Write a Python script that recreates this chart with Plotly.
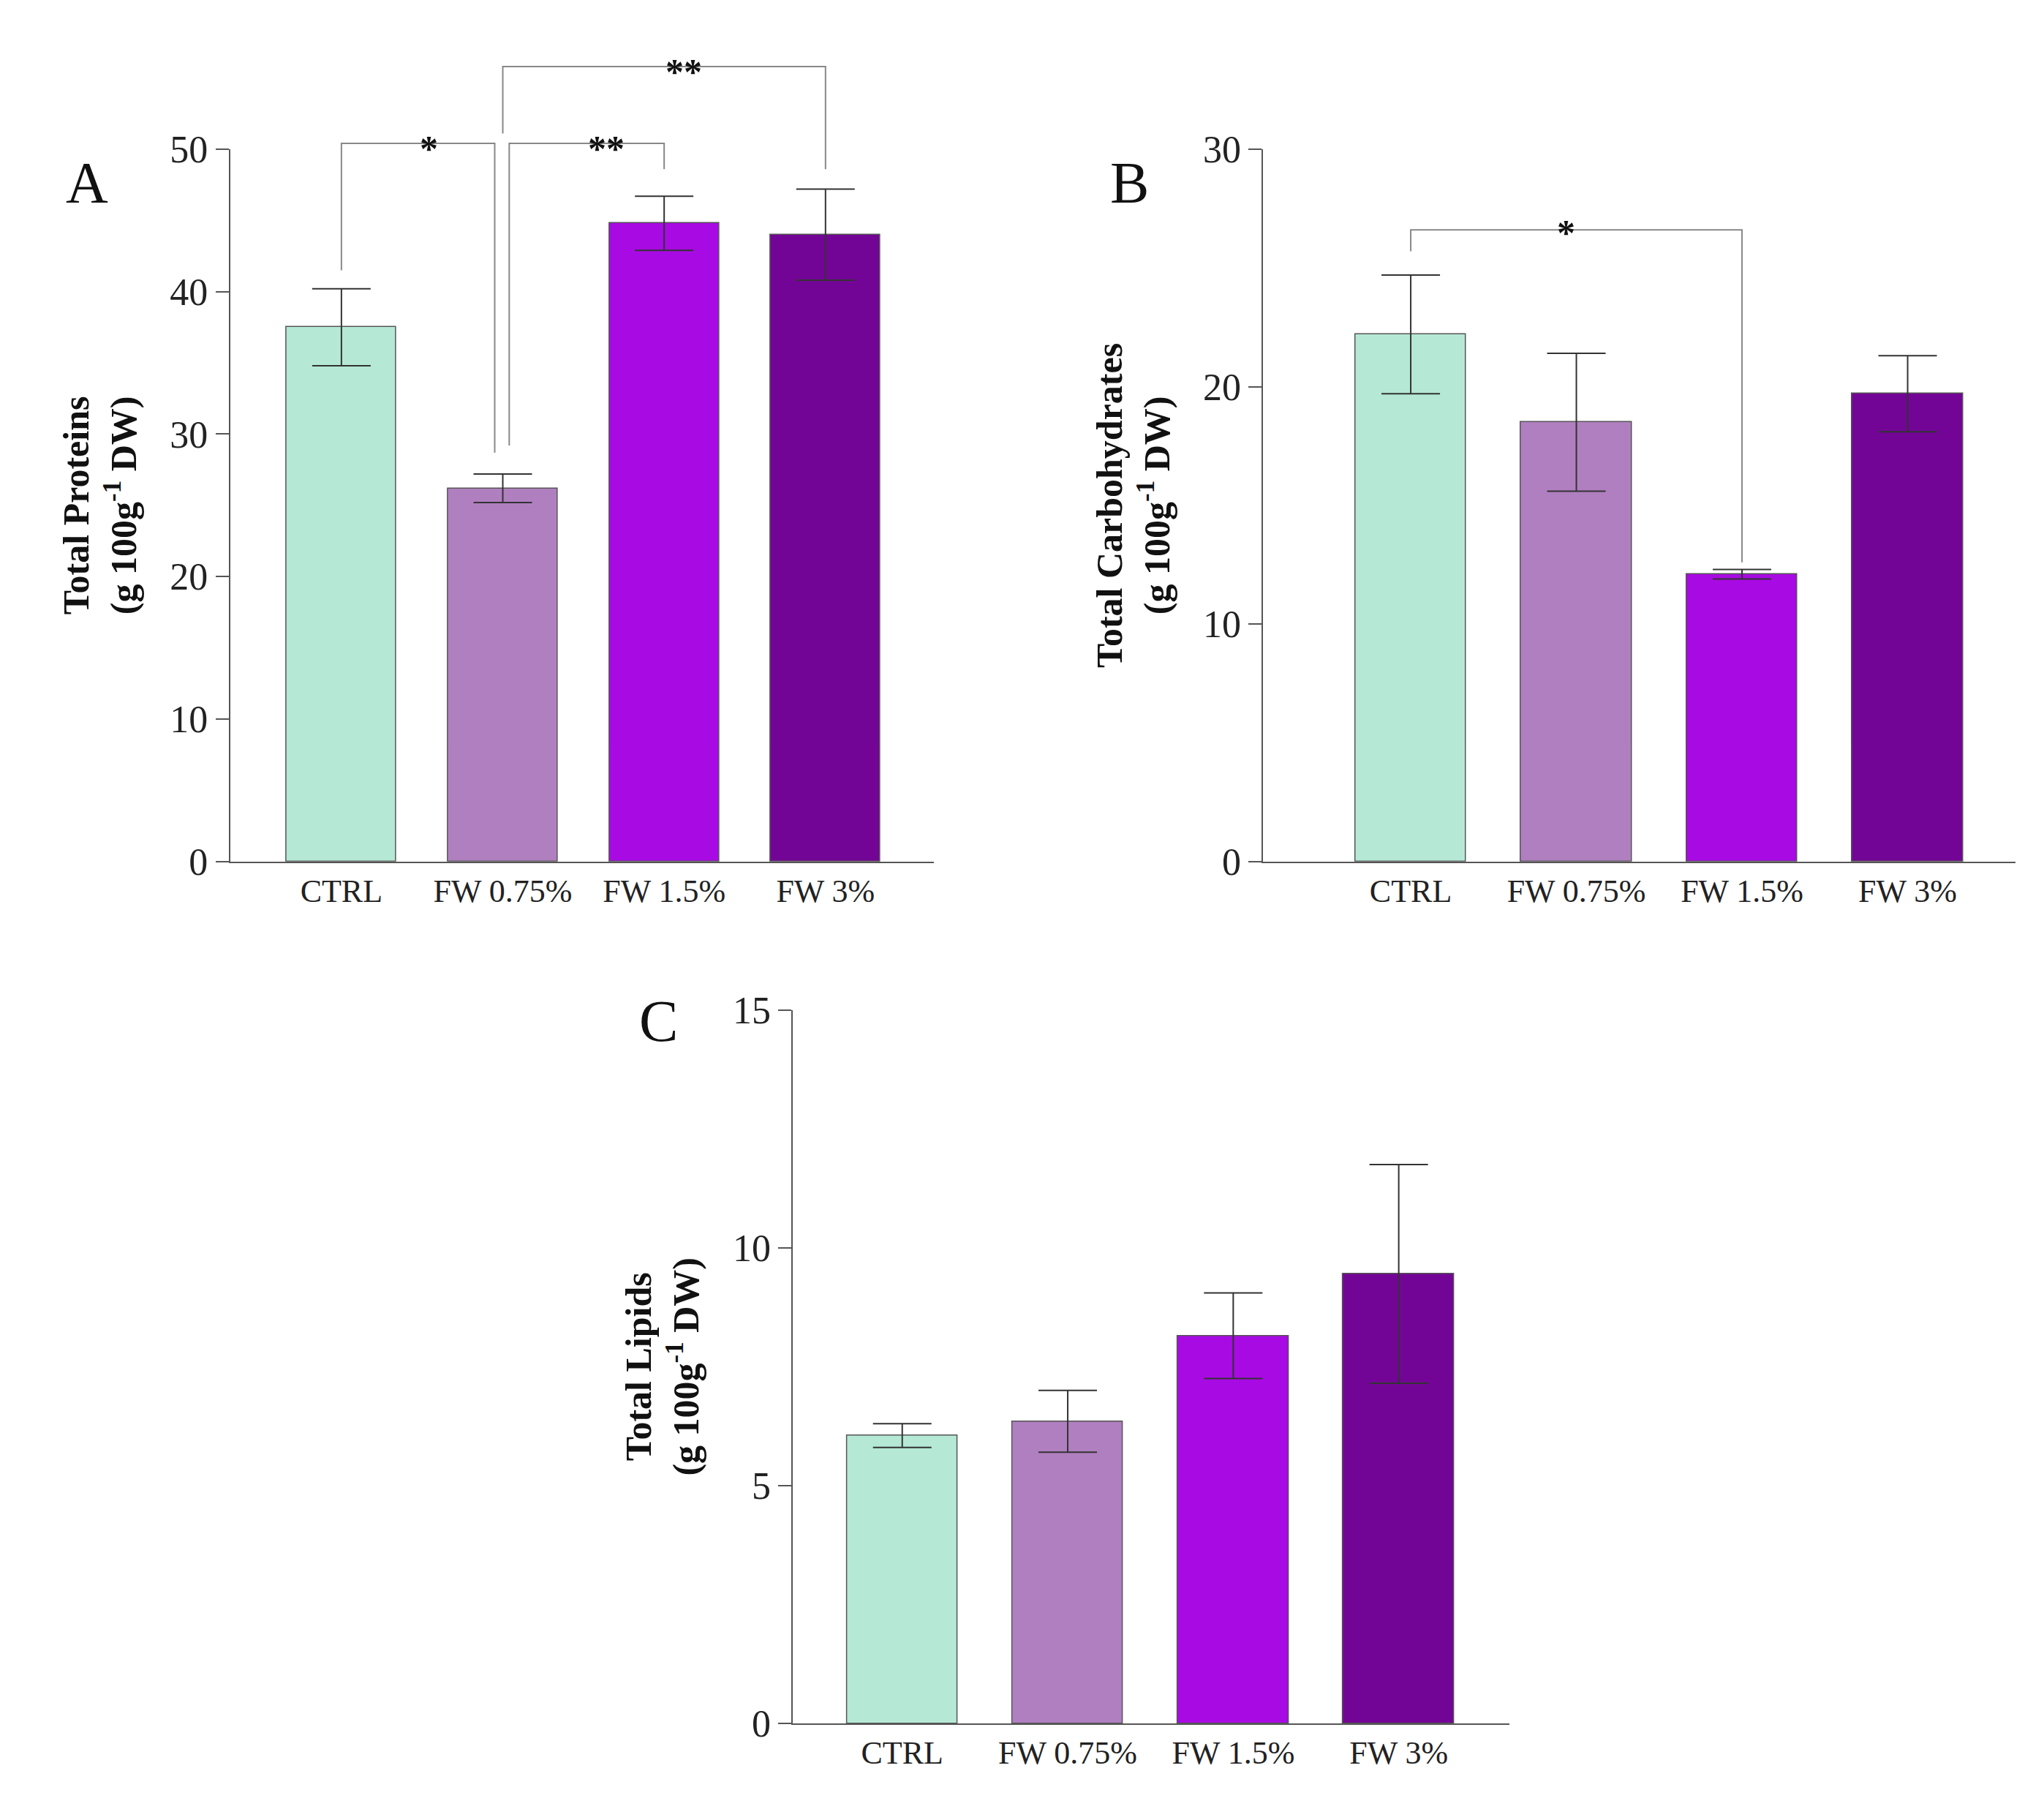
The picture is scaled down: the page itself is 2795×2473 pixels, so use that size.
import plotly.graph_objects as go

categories = ["CTRL", "FW 0.75%", "FW 1.5%", "FW 3%"]
colors = ["#b5e9d6", "#b07fc0", "#a80ae3", "#730596"]
prot = [37.5, 26.2, 44.8, 44.0]
prot_err = [2.7, 1.0, 1.9, 3.2]
carb = [22.2, 18.5, 12.1, 19.7]
carb_err = [2.5, 2.9, 0.2, 1.6]
lip = [6.05, 6.35, 8.15, 9.45]
lip_err = [0.25, 0.65, 0.9, 2.3]

W, H = 2795, 2473
FONT = "Liberation Serif"
panels = [
    dict(v=prot, e=prot_err, xd=[0.1097, 0.4539], yd=[0.5274, 0.9305], xr=[-0.69, 3.67], yr=[0, 50], dt=10,
         title="<b>Total Proteins<br>(g 100g<sup>-1</sup> DW)</b>", bw=0.68),
    dict(v=carb, e=carb_err, xd=[0.6152, 0.9831], yd=[0.5274, 0.9305], xr=[-0.89, 3.65], yr=[0, 30], dt=10,
         title="<b>Total Carbohydrates<br>(g 100g<sup>-1</sup> DW)</b>", bw=0.67),
    dict(v=lip, e=lip_err, xd=[0.3851, 0.7357], yd=[0.0397, 0.4435], xr=[-0.66, 3.67], yr=[0, 15], dt=5,
         title="<b>Total Lipids<br>(g 100g<sup>-1</sup> DW)</b>", bw=0.67),
]

fig = go.Figure()
for i, p in enumerate(panels):
    n = "" if i == 0 else str(i + 1)
    fig.add_trace(go.Bar(
        x=list(range(4)), y=p["v"], width=p["bw"], marker_color=colors,
        marker_line=dict(color="#555", width=1.5),
        error_y=dict(type="data", array=p["e"], color="#333", thickness=2, width=40),
        xaxis="x" + n, yaxis="y" + n, showlegend=False))
    fig.layout["xaxis" + n] = dict(domain=p["xd"], range=p["xr"], anchor="y" + n,
        tickvals=list(range(4)), ticktext=categories, showline=True, linecolor="#555", linewidth=2,
        ticks="", showgrid=False, zeroline=False, tickfont=dict(size=44, family=FONT, color="#222"))
    fig.layout["yaxis" + n] = dict(domain=p["yd"], range=p["yr"], anchor="x" + n, dtick=p["dt"],
        showline=True, linecolor="#555", linewidth=2, ticks="outside", ticklen=18, tickwidth=2,
        tickcolor="#555", showgrid=False, zeroline=False,
        tickfont=dict(size=52, family=FONT, color="#222"),
        title=dict(text=p["title"], font=dict(size=50, family=FONT, color="#111"), standoff=30))

def px(p, x):
    a, b = p["xr"]; d0, d1 = p["xd"]
    return d0 + (x - a) / (b - a) * (d1 - d0)

def py(p, y):
    a, b = p["yr"]; d0, d1 = p["yd"]
    return d0 + (y - a) / (b - a) * (d1 - d0)

def bracket(p, pts):
    path = "M " + " L ".join(f"{px(p, x)},{py(p, y)}" for x, y in pts)
    fig.add_shape(type="path", path=path, xref="paper", yref="paper",
                  line=dict(color="#888", width=2))

def star(p, x, y, t):
    fig.add_annotation(x=px(p, x), y=py(p, y), xref="paper", yref="paper", text=f"<b>{t}</b>",
                       showarrow=False, font=dict(size=50, family=FONT, color="#111"))

A, B, C = panels
bracket(A, [(0, 41.5), (0, 50.4), (0.95, 50.4), (0.95, 28.7)])
bracket(A, [(1.04, 29.2), (1.04, 50.4), (2, 50.4), (2, 48.6)])
bracket(A, [(1, 51.1), (1, 55.8), (3, 55.8), (3, 48.6)])
star(A, 0.475, 51.6, "*")
star(A, 1.52, 51.6, "**")
star(A, 2, 57.0, "**")
bracket(B, [(0, 25.7), (0, 26.6), (2, 26.6), (2, 12.6)])
star(B, 1, 27.4, "*")

for t, x, y in [("A", 0.0287, 0.9305), ("B", 0.5496, 0.9305), ("C", 0.3092, 0.4369)]:
    fig.add_annotation(x=x, y=y, xref="paper", yref="paper", text=t, showarrow=False,
                       font=dict(size=80, family=FONT, color="#111"))

fig.update_layout(width=W, height=H, margin=dict(l=0, r=0, t=0, b=0),
                  plot_bgcolor="white", paper_bgcolor="white", bargap=0)
fig.write_html("out.html")
